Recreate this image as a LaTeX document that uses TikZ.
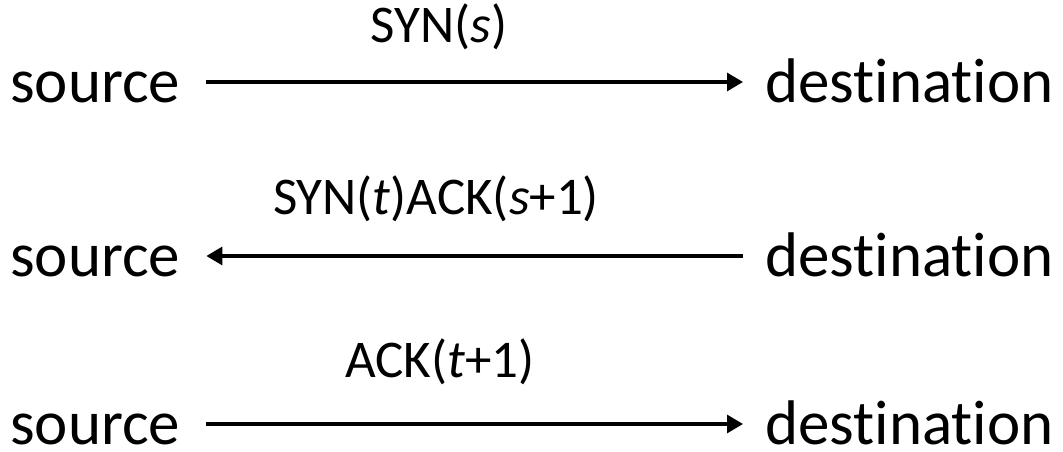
\documentclass[tikz,border=0pt]{standalone}
\usepackage{fontspec}
\setmainfont{Carlito}[Ligatures=NoCommon]
\usetikzlibrary{arrows.meta}
\begin{document}
\begin{tikzpicture}[x=1pt,y=1pt,
  endpt/.style={anchor=base west,inner sep=0pt,font=\fontsize{63}{70}\selectfont},
  msg/.style={anchor=base,inner sep=0pt,font=\fontsize{53}{60}\selectfont},
  flow/.style={line width=3.3pt,-{Triangle[length=16pt,width=18pt]}}]
\useasboundingbox (0,0) rectangle (1063,452);
% row 1
\node[endpt] (src1) at (10,349) {source};
\node[endpt] (dst1) at (765,349) {destination};
\draw[flow] ([shift={(26pt,21pt)}]src1.base east) -- ([shift={(-22pt,21pt)}]dst1.base west);
\node[msg] (m1) at (439,409) {SYN(\textit{s})};
% row 2
\node[endpt] (src2) at (10,175) {source};
\node[endpt] (dst2) at (765,175) {destination};
\draw[flow] ([shift={(-22pt,21pt)}]dst2.base west) -- ([shift={(26pt,21pt)}]src2.base east);
\node[msg] (m2) at (436,237) {SYN(\textit{t})ACK(\textit{s}+1)};
% row 3
\node[endpt] (src3) at (10,7) {source};
\node[endpt] (dst3) at (765,7) {destination};
\draw[flow] ([shift={(26pt,21pt)}]src3.base east) -- ([shift={(-22pt,21pt)}]dst3.base west);
\node[msg] (m3) at (440,74) {ACK(\textit{t}+1)};
\end{tikzpicture}
\end{document}
